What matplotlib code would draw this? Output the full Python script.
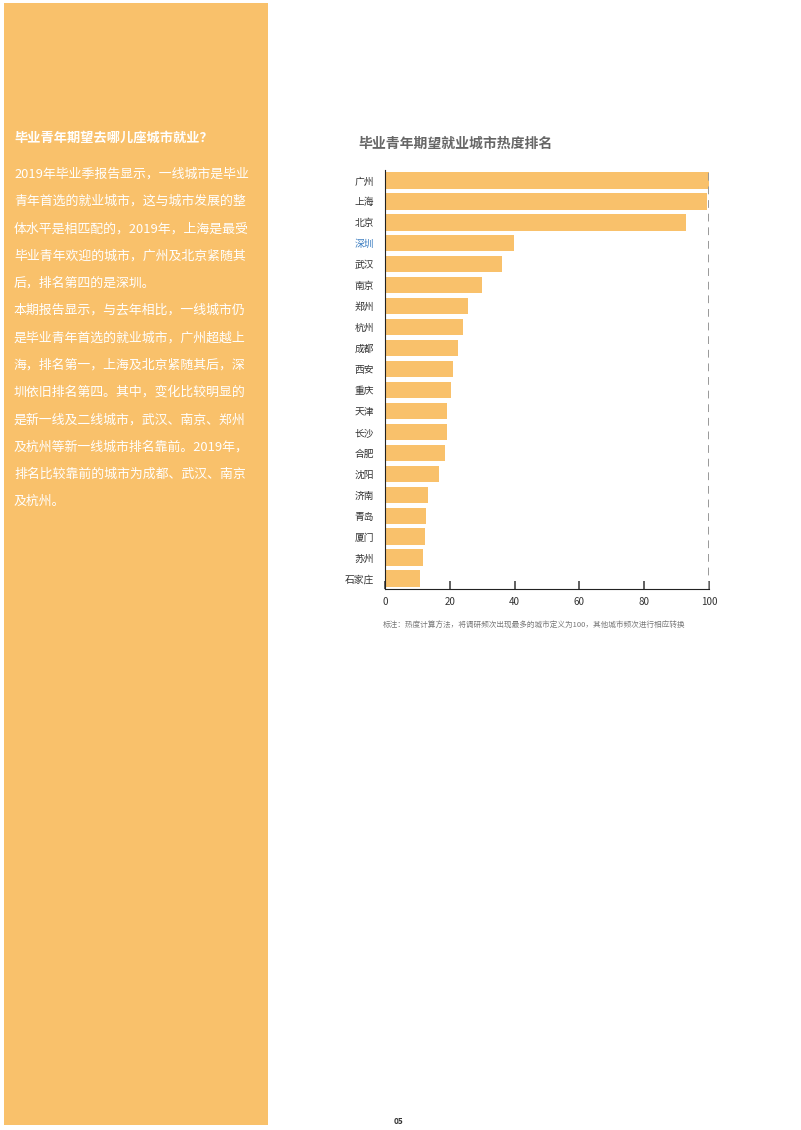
import matplotlib
matplotlib.use("Agg")
import matplotlib.pyplot as plt
from matplotlib.patches import Rectangle

plt.rcParams["font.family"] = "Noto Sans CJK SC"

cities = ["广州","上海","北京","深圳","武汉","南京","郑州","杭州","成都","西安",
          "重庆","天津","长沙","合肥","沈阳","济南","青岛","厦门","苏州","石家庄"]
values = [100, 99.3, 93, 39.7, 36, 30, 25.7, 24.2, 22.6, 21.1,
          20.5, 19, 19, 18.4, 16.8, 13.2, 12.8, 12.2, 11.6, 10.7]
xticks = [0, 20, 40, 60, 80, 100]

W, H = 801, 1130
fig = plt.figure(figsize=(W/100, H/100), dpi=100)
fig.patch.set_facecolor("white")
orange = "#F9C16B"
fig.patches.append(Rectangle((4/W, 1-1125/H), 264/W, 1122/H, transform=fig.transFigure,
                             facecolor=orange, edgecolor="none", zorder=0))

fig.text(14/W, 1-138/H, "毕业青年期望去哪儿座城市就业？", color="white", fontsize=9.5,
         fontweight="bold", va="center")
lines = ["2019年毕业季报告显示，一线城市是毕业",
         "青年首选的就业城市，这与城市发展的整",
         "体水平是相匹配的，2019年，上海是最受",
         "毕业青年欢迎的城市，广州及北京紧随其",
         "后，排名第四的是深圳。",
         "本期报告显示，与去年相比，一线城市仍",
         "是毕业青年首选的就业城市，广州超越上",
         "海，排名第一，上海及北京紧随其后，深",
         "圳依旧排名第四。其中，变化比较明显的",
         "是新一线及二线城市，武汉、南京、郑州",
         "及杭州等新一线城市排名靠前。2019年，",
         "排名比较靠前的城市为成都、武汉、南京",
         "及杭州。"]
for i, t in enumerate(lines):
    fig.text(14/W, 1-(174+27.3*i)/H, t, color="white", fontsize=9.3, va="center")

fig.text(358/W, 1-144/H, "毕业青年期望就业城市热度排名", color="#666666", fontsize=10,
         fontweight="bold", va="center")

ax = fig.add_axes([385/W, 1-589/H, 324/W, 419/H])
y = list(range(len(cities)))
ax.barh(y, values, height=0.78, color=orange)
ax.set_ylim(len(cities)-0.5, -0.5)
ax.set_xlim(0, 100)
ax.set_yticks(y)
ax.set_yticklabels(cities, fontsize=7)
for lbl in ax.get_yticklabels():
    lbl.set_color("#333333")
ax.get_yticklabels()[3].set_color("#3A7CC0")
ax.set_xticks(xticks)
ax.set_xticklabels([str(v) for v in xticks], fontsize=7, color="#333333")
ax.tick_params(axis="y", length=0, pad=8)
ax.tick_params(axis="x", direction="in", length=6, width=1.2, color="#444444", pad=6)
for s in ["top", "right"]:
    ax.spines[s].set_visible(False)
ax.spines["left"].set_color("#222222")
ax.spines["bottom"].set_color("#222222")
ax.axvline(100, color="#999999", linestyle=(0, (4, 3)), lw=1.4)

fig.text(383/W, 1-626/H, "标注：热度计算方法，将调研频次出现最多的城市定义为100，其他城市频次进行相应转换",
         color="#777777", fontsize=5.5, va="center")
fig.text(398/W, 1-1121/H, "05", color="#333333", fontsize=6, fontweight="bold", va="center", ha="center")

fig.savefig("out.png", dpi=100)
